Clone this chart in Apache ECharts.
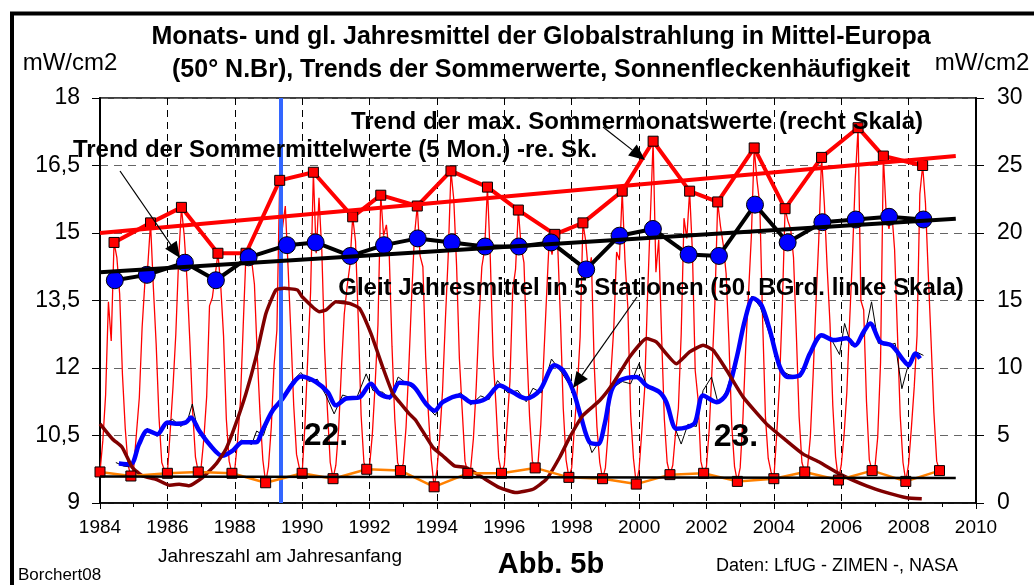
<!DOCTYPE html>
<html lang="de">
<head>
<meta charset="UTF-8">
<script src="https://cdn.jsdelivr.net/npm/echarts@6/dist/echarts.min.js"></script>
<style>
  html, body { margin: 0; padding: 0; background: #fff; }
  #chart { width: 1034px; height: 585px; }
</style>
</head>
<body>
<div id="chart"></div>
<script>
// Monatsmittel Globalstrahlung (mW/cm2, rechte Skala), Jan..Dez je Jahr ab 1984
var monthly = [
  [2.3, 4.6, 8.0, 14.9, 12.0, 19.3, 18.2, 15.5, 9.5, 5.5, 2.8, 2.0],    // 1984
  [2.6, 5.2, 7.8, 13.0, 16.4, 17.5, 20.75, 16.0, 11.8, 6.4, 3.0, 2.4],  // 1985
  [2.2, 5.3, 8.6, 12.5, 18.0, 21.9, 19.8, 16.5, 12.0, 6.8, 3.4, 2.3],   // 1986
  [2.6, 4.8, 7.9, 14.6, 15.2, 16.8, 18.5, 16.1, 12.4, 6.2, 3.1, 2.2],   // 1987
  [2.5, 4.6, 7.5, 13.1, 18.5, 17.6, 18.0, 16.2, 11.0, 6.6, 3.2, 1.5],   // 1988
  [2.7, 5.6, 10.2, 12.8, 23.9, 20.4, 22.0, 17.4, 12.5, 7.2, 3.6, 2.6],  // 1989
  [2.2, 5.8, 10.8, 15.6, 24.5, 18.5, 22.6, 18.7, 11.4, 6.9, 3.0, 1.8],  // 1990
  [2.8, 5.5, 10.0, 14.0, 16.0, 17.6, 21.2, 19.4, 13.5, 6.5, 3.0, 2.5],  // 1991
  [2.7, 5.1, 8.8, 13.2, 22.8, 19.8, 20.6, 18.5, 11.6, 6.2, 3.0, 2.4],   // 1992
  [2.9, 5.6, 10.1, 15.3, 19.8, 22.0, 18.3, 17.5, 10.8, 6.5, 3.2, 1.2],  // 1993
  [2.4, 4.9, 8.3, 13.5, 18.2, 24.6, 22.5, 17.6, 10.7, 6.9, 3.1, 2.2],   // 1994
  [2.5, 4.8, 8.6, 13.6, 17.5, 18.8, 23.4, 18.2, 10.9, 7.4, 3.3, 2.2],   // 1995
  [2.8, 5.9, 9.0, 15.8, 17.3, 21.7, 19.0, 17.8, 11.5, 6.4, 3.1, 2.6],   // 1996
  [2.9, 5.8, 10.5, 15.1, 19.6, 18.4, 19.9, 19.2, 13.6, 7.0, 3.2, 1.9],  // 1997
  [2.6, 5.7, 8.4, 12.3, 20.75, 19.4, 17.0, 18.2, 10.4, 5.6, 3.0, 1.8],  // 1998
  [2.6, 5.3, 9.7, 13.0, 18.6, 18.0, 23.1, 17.9, 14.5, 6.6, 3.3, 1.4],   // 1999
  [2.5, 5.4, 8.5, 15.2, 21.1, 26.8, 17.1, 19.5, 12.5, 6.2, 3.0, 2.1],   // 2000
  [2.8, 5.2, 7.0, 12.5, 21.1, 19.6, 23.1, 18.6, 9.8, 7.7, 3.1, 2.2],    // 2001
  [2.7, 5.5, 10.0, 14.8, 22.3, 20.5, 19.1, 17.0, 12.0, 5.8, 2.7, 1.6],  // 2002
  [2.6, 6.3, 11.6, 15.6, 19.8, 26.3, 23.9, 22.1, 13.6, 6.4, 3.3, 2.3],  // 2003
  [1.8, 5.0, 8.8, 14.5, 21.8, 20.9, 20.3, 18.2, 12.6, 6.4, 3.0, 2.3],   // 2004
  [2.6, 4.9, 9.5, 14.8, 19.5, 25.6, 22.1, 17.4, 13.3, 7.2, 3.4, 1.7],   // 2005
  [2.8, 5.0, 8.2, 13.5, 18.3, 24.0, 27.8, 15.0, 14.3, 7.5, 3.2, 2.4],   // 2006
  [2.6, 4.9, 10.4, 25.7, 21.5, 20.3, 21.6, 18.8, 12.7, 6.5, 3.0, 1.6],  // 2007
  [2.9, 5.6, 8.6, 12.4, 22.9, 25.0, 22.2, 17.0, 12.0, 6.7, 3.1, 2.4]    // 2008
];
var firstYear = 1984;

// Monat des Sommermaximums je Jahr (1984..2008)
var sumMaxMonth = [6, 7, 6, 7, 5, 5, 5, 7, 5, 6, 6, 7, 6, 7, 5, 7, 6, 7, 5, 6, 5, 6, 7, 4, 6];

// Sommermittel (5 Mon.), rechte Skala
var sumMeanYear = [1984.44, 1985.39, 1986.52, 1987.44, 1988.41, 1989.55, 1990.40, 1991.43, 1992.43,
  1993.43, 1994.44, 1995.43, 1996.43, 1997.39, 1998.43, 1999.42, 2000.41, 2001.47, 2002.37,
  2003.44, 2004.41, 2005.44, 2006.43, 2007.42, 2008.44];
var sumMeanVal = [16.5, 16.9, 17.8, 16.5, 18.2, 19.1, 19.3, 18.3, 19.1, 19.6, 19.3, 19.0, 19.0,
  19.3, 17.3, 19.8, 20.3, 18.4, 18.3, 22.1, 19.3, 20.8, 21.0, 21.2, 21.0];

// Wintermonat mit Minimum
var winMinMonth = ['1984-01', '1984-12', '1986-01', '1986-12', '1987-12', '1988-12', '1990-01',
  '1990-12', '1991-12', '1992-12', '1993-12', '1994-12', '1995-12', '1996-12', '1997-12',
  '1998-12', '1999-12', '2000-12', '2001-12', '2002-12', '2004-01', '2004-12', '2005-12',
  '2006-12', '2007-12', '2008-12'];

// Trendlinien (Anfang / Ende)
var trendYears = [1984, 2009.4];
var trendMax = [20.0, 25.7];
var trendMean = [17.1, 21.05];
var trendMin = [1.96, 1.86];

// gleitendes Jahresmittel 5 Stationen (linke Skala)
var gleitBlue = [[1984.56, 9.88], [1984.91, 9.86], [1985.16, 10.31], [1985.41, 10.61], [1985.7, 10.53],
  [1986.0, 10.79], [1986.25, 10.76], [1986.55, 10.79], [1986.7, 10.9], [1986.94, 10.61], [1987.24, 10.31],
  [1987.63, 10.05], [1987.93, 10.16], [1988.23, 10.35], [1988.63, 10.35], [1988.82, 10.61], [1989.12, 11.05],
  [1989.42, 11.32], [1989.72, 11.65], [1989.96, 11.81], [1990.41, 11.69], [1990.76, 11.46], [1991.0, 11.17],
  [1991.3, 11.32], [1991.7, 11.35], [1992.04, 11.65], [1992.29, 11.43], [1992.59, 11.35], [1992.89, 11.67],
  [1993.28, 11.61], [1993.68, 11.2], [1993.93, 11.05], [1994.17, 11.24], [1994.67, 11.39], [1995.02, 11.24],
  [1995.46, 11.32], [1995.86, 11.61], [1996.25, 11.46], [1996.65, 11.32], [1997.05, 11.5], [1997.49, 12.06],
  [1997.74, 11.95], [1998.04, 11.5], [1998.28, 10.9], [1998.53, 10.35], [1998.78, 10.31], [1998.98, 10.76],
  [1999.18, 11.5], [1999.42, 11.72], [1999.92, 11.8], [2000.22, 11.61], [2000.61, 11.46], [2000.81, 11.24],
  [2001.11, 10.65], [2001.41, 10.68], [2001.66, 10.79], [2001.9, 11.39], [2002.3, 11.24], [2002.6, 11.43],
  [2002.9, 12.24], [2003.14, 13.06], [2003.39, 13.55], [2003.63, 13.4], [2003.88, 12.84], [2004.18, 12.02],
  [2004.42, 11.8], [2004.77, 11.84], [2005.07, 12.32], [2005.42, 12.73], [2005.76, 12.62], [2006.16, 12.66],
  [2006.41, 12.5], [2006.66, 12.8], [2006.86, 12.99], [2007.16, 12.58], [2007.5, 12.5], [2007.85, 12.17],
  [2008.0, 12.06], [2008.2, 12.32], [2008.34, 12.21]];

var gleitBlack = [[1984.47, 9.9], [1984.7, 9.82], [1984.91, 9.8], [1985.1, 10.2], [1985.4, 10.66],
  [1985.7, 10.48], [1985.9, 10.76], [1986.15, 10.86], [1986.4, 10.7], [1986.6, 10.84], [1986.74, 11.2],
  [1986.85, 10.8], [1987.0, 10.55], [1987.24, 10.28], [1987.6, 10.02], [1987.93, 10.2], [1988.2, 10.4],
  [1988.5, 10.3], [1988.65, 10.6], [1988.85, 10.5], [1989.1, 11.1], [1989.4, 11.3], [1989.7, 11.7],
  [1989.96, 11.9], [1990.2, 11.7], [1990.45, 11.75], [1990.7, 11.4], [1990.95, 10.98], [1991.2, 11.4],
  [1991.6, 11.3], [1991.9, 11.87], [1992.1, 11.5], [1992.4, 11.46], [1992.6, 11.3], [1992.85, 11.8],
  [1993.2, 11.6], [1993.5, 11.45], [1993.75, 11.1], [1993.95, 10.95], [1994.2, 11.3], [1994.5, 11.35],
  [1994.7, 11.45], [1995.0, 11.18], [1995.3, 11.38], [1995.55, 11.3], [1995.8, 11.72], [1996.1, 11.45],
  [1996.4, 11.5], [1996.65, 11.25], [1996.85, 11.55], [1997.1, 11.45], [1997.4, 12.2], [1997.7, 11.9],
  [1998.0, 11.55], [1998.3, 10.85], [1998.6, 10.12], [1998.85, 10.4], [1999.0, 10.7], [1999.2, 11.55],
  [1999.5, 11.7], [1999.75, 11.65], [2000.0, 12.1], [2000.25, 11.55], [2000.6, 11.5], [2000.85, 11.15],
  [2001.1, 10.6], [2001.25, 10.31], [2001.45, 10.75], [2001.7, 10.7], [2001.9, 11.5], [2002.15, 11.8],
  [2002.35, 11.2], [2002.6, 11.5], [2002.9, 12.3], [2003.15, 13.1], [2003.35, 13.6], [2003.6, 13.35],
  [2003.85, 12.8], [2004.2, 11.95], [2004.45, 11.85], [2004.8, 11.8], [2005.1, 12.4], [2005.4, 12.7],
  [2005.7, 12.65], [2005.95, 12.3], [2006.1, 12.99], [2006.3, 12.5], [2006.5, 12.55], [2006.7, 12.75],
  [2006.9, 13.47], [2007.1, 12.55], [2007.4, 12.5], [2007.6, 12.55], [2007.8, 11.54], [2008.0, 12.1],
  [2008.25, 12.35], [2008.44, 12.28]];

// Sonnenflecken (geglättet), eigene Skala 0..300
var sunspots = [[1984.0, 58.6], [1984.37, 47.4], [1984.66, 41.2], [1984.96, 26.3], [1985.26, 20.1],
  [1985.66, 17.6], [1986.05, 13.2], [1986.35, 13.9], [1986.64, 12.7], [1987.04, 18.8], [1987.44, 28.8],
  [1987.74, 40], [1988.03, 58.6], [1988.33, 80.9], [1988.63, 108], [1988.92, 140], [1989.22, 157.8],
  [1989.47, 159], [1989.86, 157.8], [1990.0, 152.8], [1990.51, 141.7], [1990.71, 143], [1991.0, 149],
  [1991.4, 147.9], [1991.7, 144.2], [1992.04, 125.6], [1992.39, 100.7], [1992.69, 80.9], [1992.89, 74.7],
  [1993.18, 66], [1993.38, 61], [1993.88, 41.2], [1994.17, 35], [1994.52, 27.5], [1994.87, 26.3],
  [1995.36, 18.8], [1995.86, 11.4], [1996.35, 7.7], [1996.85, 10.2], [1997.25, 17.6], [1997.64, 33.7],
  [1997.94, 48.6], [1998.33, 64.8], [1998.83, 75.9], [1999.22, 88.3], [1999.72, 108.2], [2000.22, 121.8],
  [2000.51, 119.3], [2001.11, 103.2], [2001.5, 111.9], [2001.9, 116.9], [2002.2, 113.1], [2002.6, 98.3],
  [2003.09, 78.4], [2003.78, 58.6], [2004.37, 46.2], [2004.87, 36.2], [2005.37, 30], [2005.96, 21.4],
  [2006.75, 12.7], [2007.35, 7.7], [2007.94, 3.9], [2008.39, 3.2]];

var markerYear = 1989.35;

var leftTicks = [9, 10.5, 12, 13.5, 15, 16.5, 18];
var rightTicks = [0, 5, 10, 15, 20, 25, 30];

// ---- Aufbereitung ----
function ym(s) {
  var p = s.split('-');
  return +p[0] + (+p[1] - 1) / 12;
}
function monthVal(y, m) { return monthly[y - firstYear][m - 1]; }

var monthlyData = [];
monthly.forEach(function (row, yi) {
  row.forEach(function (v, mi) { monthlyData.push([firstYear + yi + mi / 12, v]); });
});
var sumMaxData = sumMaxMonth.map(function (m, i) {
  return [firstYear + i + (m - 1) / 12, monthVal(firstYear + i, m)];
});
var winMinData = winMinMonth.map(function (s) {
  var p = s.split('-');
  return [ym(s), monthVal(+p[0], +p[1])];
});
var sumMeanData = sumMeanYear.map(function (y, i) { return [y, sumMeanVal[i]]; });
function trend(vals) { return trendYears.map(function (y, i) { return [y, vals[i]]; }); }

var FONT = '"Liberation Sans", Arial, sans-serif';

function txt(text, x, y, size, bold, align) {
  return {
    type: 'text', z: 100,
    style: {
      text: text, x: x, y: y,
      textAlign: align || 'center', textVerticalAlign: 'middle',
      font: (bold ? 'bold ' : '') + size + 'px ' + FONT,
      fill: '#000'
    }
  };
}
function arrow(x1, y1, x2, y2) {
  var a = Math.atan2(y2 - y1, x2 - x1), L = 16, W = 7;
  var bx = x2 - L * Math.cos(a), by = y2 - L * Math.sin(a);
  return [
    { type: 'line', z: 100, shape: { x1: x1, y1: y1, x2: bx, y2: by }, style: { stroke: '#000', lineWidth: 1.2 } },
    { type: 'polygon', z: 100, shape: { points: [[x2, y2],
        [bx + W * Math.sin(a), by - W * Math.cos(a)], [bx - W * Math.sin(a), by + W * Math.cos(a)]] },
      style: { fill: '#000' } }
  ];
}

var chart = echarts.init(document.getElementById('chart'));

var graphics = [
  { type: 'rect', z: 100, shape: { x: 12, y: 13.5, width: 1100, height: 700 },
    style: { fill: 'none', stroke: '#000', lineWidth: 4 } },
  txt('Monats- und gl. Jahresmittel der Globalstrahlung in Mittel-Europa', 541, 37, 25, true),
  txt('(50° N.Br), Trends der Sommerwerte, Sonnenfleckenhäufigkeit', 541, 70, 25, true),
  txt('mW/cm2', 70, 63, 24, false),
  txt('mW/cm2', 982, 63, 24, false),
  txt('Trend der max. Sommermonatswerte (recht Skala)', 637, 122, 24, true),
  txt('Trend der Sommermittelwerte (5 Mon.) -re. Sk.', 335, 150, 24, true),
  txt('Gleit Jahresmittel in 5 Stationen (50. BGrd. linke Skala)', 651, 288, 24, true),
  txt('22.', 326, 436, 32, true),
  txt('23.', 736, 437, 32, true),
  txt('Jahreszahl am Jahresanfang', 280, 557, 19, false),
  txt('Abb. 5b', 551, 565, 29, true),
  txt('Daten: LfUG - ZIMEN -, NASA', 837, 566, 18, false),
  txt('Borchert08', 18, 575, 17, false, 'left')
].concat(arrow(120, 171, 180, 258), arrow(603, 127, 645, 160), arrow(637, 297, 573, 388));

chart.setOption({
  animation: false,
  backgroundColor: '#fff',
  grid: { left: 100, right: 58, top: 98, bottom: 82, show: true, borderColor: '#000', borderWidth: 1.5,
    backgroundColor: 'transparent' },
  xAxis: {
    type: 'value', min: 1984, max: 2010, interval: 2,
    axisLine: { lineStyle: { color: '#000', width: 1.5 } },
    axisTick: { show: true, length: 6, lineStyle: { color: '#000' } },
    minorTick: { show: true, splitNumber: 2, length: 4, lineStyle: { color: '#000' } },
    axisLabel: { color: '#000', fontSize: 19, fontFamily: FONT, margin: 15,
      formatter: function (v) { return String(v); } },
    splitLine: { show: true, lineStyle: { color: '#000', type: [7, 5], width: 1 } }
  },
  yAxis: [
    {
      type: 'value', min: 9, max: 18, interval: 1.5, position: 'left',
      axisLine: { show: true, lineStyle: { color: '#000', width: 2 } },
      axisTick: { show: true, length: 8, lineStyle: { color: '#000' } },
      axisLabel: { color: '#000', fontSize: 23, fontFamily: FONT, margin: 20,
        formatter: function (v) { return leftTicks.indexOf(v) >= 0 ? String(v).replace('.', ',') : ''; } },
      splitLine: { show: true, lineStyle: { color: '#666', type: [8, 6], width: 1 } }
    },
    {
      type: 'value', min: 0, max: 30, interval: 5, position: 'right',
      axisLine: { show: true, lineStyle: { color: '#000', width: 2 } },
      axisTick: { show: true, length: 8, lineStyle: { color: '#000' } },
      axisLabel: { color: '#000', fontSize: 23, fontFamily: FONT, margin: 21,
        formatter: function (v) { return rightTicks.indexOf(v) >= 0 ? String(v) : ''; } },
      splitLine: { show: false }
    },
    { type: 'value', min: 0, max: 300, show: false, splitLine: { show: false } }
  ],
  series: [
    { name: 'Monatsmittel', type: 'line', yAxisIndex: 1, z: 2, data: monthlyData, symbol: 'none',
      lineStyle: { color: '#ff0000', width: 1.3 } },
    { name: 'Gleit schwarz', type: 'line', yAxisIndex: 0, z: 3, data: gleitBlack, symbol: 'none',
      lineStyle: { color: '#000', width: 1 } },
    { name: 'Gleit Jahresmittel', type: 'line', yAxisIndex: 0, z: 4, data: gleitBlue, symbol: 'none',
      smooth: 0.3, lineStyle: { color: '#0000ff', width: 4.5 } },
    { name: 'Marker', type: 'line', yAxisIndex: 0, z: 5, data: [], symbol: 'none',
      markLine: { silent: true, symbol: 'none', label: { show: false },
        lineStyle: { color: '#3366ff', width: 4, type: 'solid' }, data: [{ xAxis: markerYear }] } },
    { name: 'Sonnenflecken', type: 'line', yAxisIndex: 2, z: 6, data: sunspots, symbol: 'none',
      smooth: 0.15, lineStyle: { color: '#800000', width: 3.5 } },
    { name: 'Winterminima', type: 'line', yAxisIndex: 1, z: 7, data: winMinData, symbol: 'rect', symbolSize: 10,
      itemStyle: { color: '#ff0000', borderColor: '#000', borderWidth: 1 },
      lineStyle: { color: '#ff8000', width: 2.5 } },
    { name: 'Trend Minima', type: 'line', yAxisIndex: 1, z: 8, data: trend(trendMin), symbol: 'none',
      lineStyle: { color: '#000', width: 2.5 } },
    { name: 'Sommermaxima', type: 'line', yAxisIndex: 1, z: 9, data: sumMaxData, symbol: 'rect', symbolSize: 10,
      itemStyle: { color: '#ff0000', borderColor: '#000', borderWidth: 1 },
      lineStyle: { color: '#ff0000', width: 4 } },
    { name: 'Trend Maxima', type: 'line', yAxisIndex: 1, z: 10, data: trend(trendMax), symbol: 'none',
      lineStyle: { color: '#ff0000', width: 4 } },
    { name: 'Sommermittel', type: 'line', yAxisIndex: 1, z: 11, data: sumMeanData, symbol: 'circle', symbolSize: 17,
      itemStyle: { color: '#0000ff', borderColor: '#000', borderWidth: 1 },
      lineStyle: { color: '#000', width: 4 } },
    { name: 'Trend Sommermittel', type: 'line', yAxisIndex: 1, z: 12, data: trend(trendMean), symbol: 'none',
      lineStyle: { color: '#000', width: 4 } }
  ],
  graphic: graphics
});
</script>
</body>
</html>
